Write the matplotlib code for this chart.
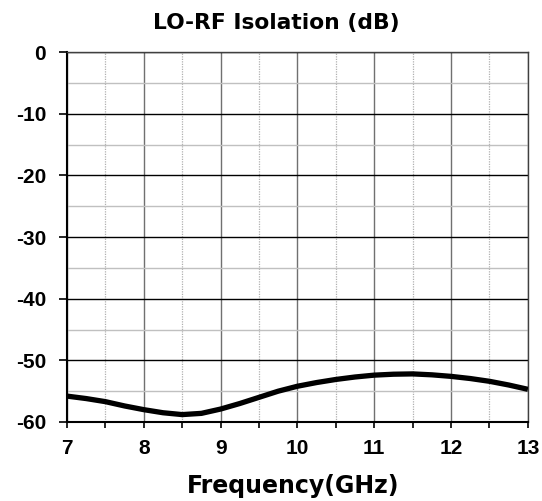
import numpy as np
import matplotlib.pyplot as plt
from matplotlib.ticker import MultipleLocator

plt.rcParams['axes.unicode_minus'] = False

freq = [7.0, 7.25, 7.5, 7.75, 8.0, 8.25, 8.5, 8.75, 9.0, 9.25, 9.5, 9.75, 10.0,
        10.25, 10.5, 10.75, 11.0, 11.25, 11.5, 11.75, 12.0, 12.25, 12.5, 12.75, 13.0]
iso = [-55.8, -56.2, -56.7, -57.4, -58.0, -58.5, -58.8, -58.6, -57.9, -57.0, -56.0,
       -55.0, -54.2, -53.6, -53.1, -52.7, -52.4, -52.25, -52.2, -52.35, -52.6,
       -52.95, -53.4, -54.0, -54.7]

fig = plt.figure(figsize=(5.42, 5.01), dpi=100)
ax = fig.add_axes([0.1236, 0.1577, 0.8504, 0.7383])

ax.plot(freq, iso, color='black', lw=3.8, solid_capstyle='butt', solid_joinstyle='round', zorder=5)

ax.set_xlim(7, 13)
ax.set_ylim(-60, 0)
ax.xaxis.set_major_locator(MultipleLocator(1))
ax.xaxis.set_minor_locator(MultipleLocator(0.5))
ax.yaxis.set_major_locator(MultipleLocator(10))
ax.yaxis.set_minor_locator(MultipleLocator(5))

ax.grid(axis='x', which='major', color='#707070', lw=1.0)
ax.grid(axis='x', which='minor', color='#b0b0b0', lw=0.9, ls=(0, (1, 1)))
ax.grid(axis='y', which='major', color='black', lw=1.0)
ax.grid(axis='y', which='minor', color='#c0c0c0', lw=1.0)
ax.set_axisbelow(True)

for s in ax.spines.values():
    s.set_linewidth(1.0)
ax.spines['left'].set_linewidth(1.5)
ax.spines['bottom'].set_linewidth(1.5)
ax.spines['right'].set_color('#404040')
ax.spines['top'].set_color('#404040')

ax.tick_params(axis='x', which='both', direction='out', length=4, width=1.2, pad=8)
ax.tick_params(axis='y', which='major', direction='out', length=6, width=1.2, pad=9)
ax.tick_params(axis='y', which='minor', length=0)
ax.tick_params(labelsize=15)
for lab in ax.get_xticklabels() + ax.get_yticklabels():
    lab.set_fontweight('bold')
    lab.set_family('Liberation Sans')

fig.text(276.5 / 542, 1 - 23 / 501, 'LO-RF Isolation (dB)', fontsize=15.7,
         fontweight='bold', ha='center', va='center', family='DejaVu Sans')
fig.text(293.5 / 542, 1 - 486 / 501, 'Frequency(GHz)', fontsize=17,
         fontweight='bold', ha='center', va='center', family='DejaVu Sans')

fig.savefig('out.png', dpi=100)
